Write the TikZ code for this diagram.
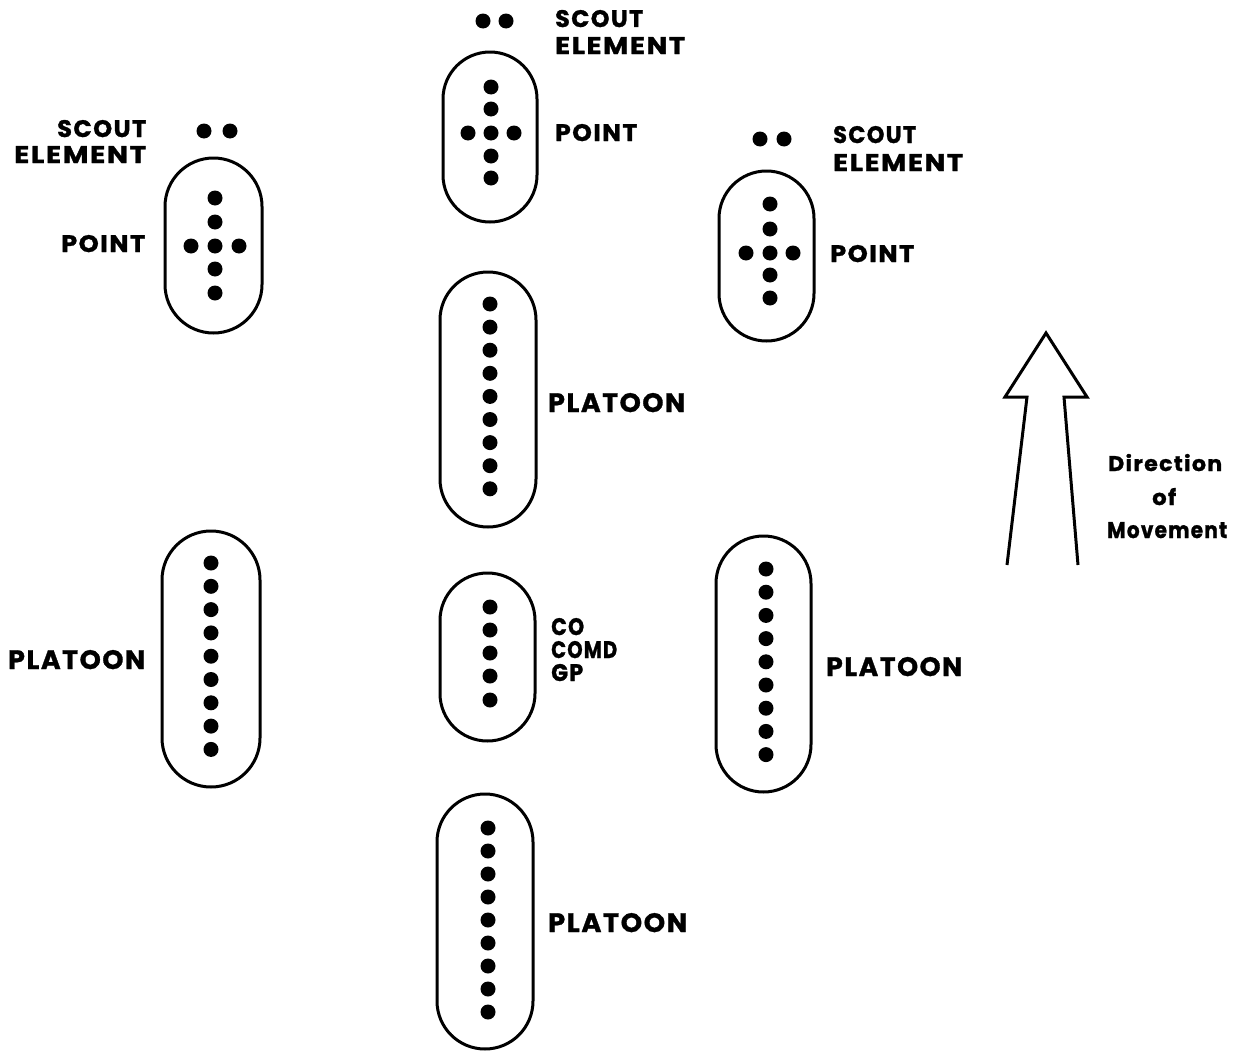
\documentclass[tikz,border=0pt]{standalone}
\usepackage{fontspec}
\usepackage{graphicx}
\newfontfamily\labf{Poppins}[LetterSpace=6, BoldFeatures={FakeBold=1.2}]
\tikzset{
  capline/.style={line width=3pt, line join=round},
  lbl/.style={inner sep=0pt, anchor=base west},
  dot/.style={fill=black},
}
% capsule: x1, x2, ytop, ybottom
\newcommand\capsule[4]{%
  \pgfmathsetmacro\rx{(#2-#1)/2}%
  \pgfmathsetmacro\cx{(#1+#2)/2}%
  \draw[capline] (#1,#3+\rx) -- (#1,#4-\rx)
    arc[start angle=180, end angle=0, x radius=\rx, y radius=\rx]
    -- (#2,#3+\rx)
    arc[start angle=0, end angle=-180, x radius=\rx, y radius=\rx] -- cycle;}
\newcommand\dotat[2]{\fill[dot] (#1,#2) circle[radius=7.5pt];}
% label: name, xleft, width, height, baseline, text
\newcommand\lab[6]{\node[lbl] (#1) at (#2,#5) {\resizebox{#3pt}{#4pt}{\labf\bfseries #6}};}
\begin{document}
\begin{tikzpicture}[x=1pt,y=-1pt]
\useasboundingbox (0,0) rectangle (1235,1052);

% ---- centre column: scout + point
\dotat{483}{21}\dotat{506}{21}
\capsule{443}{537}{52}{222}
\foreach \y in {87,109,133,156,178} {\dotat{491}{\y}}
\dotat{468}{133}\dotat{514}{133}

% ---- left column: scout + point
\dotat{204}{131}\dotat{230}{131}
\capsule{165}{262}{158}{333}
\foreach \y in {198,222,246,269,293} {\dotat{215}{\y}}
\dotat{191}{246}\dotat{239}{246}

% ---- right column: scout + point
\dotat{760}{139}\dotat{784}{139}
\capsule{719}{814}{171}{341}
\foreach \y in {204,229,253,275,298} {\dotat{770}{\y}}
\dotat{746}{253}\dotat{793}{253}

% ---- centre platoon
\capsule{440}{536}{272}{527}
\foreach \i in {0,...,8} {\dotat{490}{304+23.1*\i}}

% ---- CO COMD GP
\capsule{440}{535}{573}{741}
\foreach \y in {607,630,653,676,700} {\dotat{490}{\y}}

% ---- bottom platoon
\capsule{437}{533}{794}{1049}
\foreach \i in {0,...,8} {\dotat{488}{828+23*\i}}

% ---- left platoon
\capsule{162}{260}{531}{787}
\foreach \i in {0,...,8} {\dotat{211}{563+23.3*\i}}

% ---- right platoon
\capsule{716}{811}{536}{792}
\foreach \i in {0,...,8} {\dotat{766}{569+23.2*\i}}

% ---- direction arrow
\draw[line width=3pt, line join=miter] (1007,565) -- (1027,397) -- (1005,397) -- (1046,333)
  -- (1087,397) -- (1064,397) -- (1078,565);

% ---- labels
\lab{sc1}{555}{88}{17}{27}{SCOUT}
\lab{el1}{555}{130}{17}{54}{ELEMENT}
\lab{pt1}{555}{82}{17}{141}{POINT}
\lab{sc2}{57}{89}{17}{137}{SCOUT}
\lab{el2}{14}{132}{17}{163}{ELEMENT}
\lab{pt2}{61}{84}{17}{252}{POINT}
\lab{sc3}{833}{83}{17}{143}{SCOUT}
\lab{el3}{833}{130}{17}{171}{ELEMENT}
\lab{pt3}{830}{84}{17}{262}{POINT}
\lab{pl1}{548}{137}{19}{412}{PLATOON}
\lab{co}{551}{33}{17}{635}{CO}
\lab{comd}{551}{66}{17}{658}{COMD}
\lab{gp}{551}{32}{17}{681}{GP}
\lab{pl2}{8}{137}{19}{669}{PLATOON}
\lab{pl3}{826}{136}{19}{676}{PLATOON}
\lab{pl4}{548}{139}{19}{932}{PLATOON}
\lab{dir}{1108}{114}{17}{471}{Direction}
\lab{of}{1152}{24}{17}{505}{of}
\lab{mov}{1107}{120}{16}{538}{Movement}
\end{tikzpicture}
\end{document}
